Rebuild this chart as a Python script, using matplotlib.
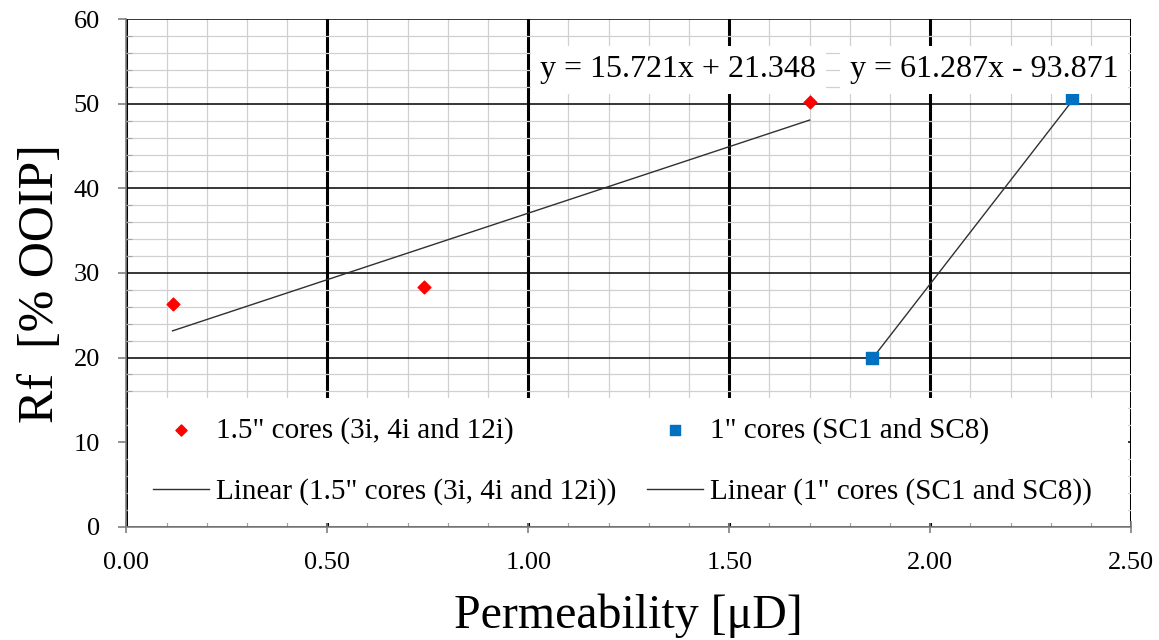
# Recovery factor vs permeability for the two core sizes, with linear trendlines

import numpy as np
import matplotlib.pyplot as plt
from matplotlib.ticker import MultipleLocator, FormatStrFormatter
from matplotlib.patches import Rectangle

plt.rcParams['font.family'] = ['Liberation Serif', 'DejaVu Serif']

# 1.5" cores (3i, 4i and 12i)
perm_15 = [0.115, 0.74, 1.70]
rf_15 = [26.3, 28.3, 50.2]

# 1" cores (SC1 and SC8)
perm_1 = [1.855, 2.353]
rf_1 = [20.0, 50.7]

# trendline coefficients (slope, intercept)
fit_15 = [15.721, 21.348]
fit_1 = [61.287, -93.871]

fig = plt.figure(figsize=(11.59, 6.40), dpi=100)
ax = fig.add_axes([0.109, 0.177, 0.867, 0.793])

ax.set_xlim(0, 2.5)
ax.set_ylim(0, 60)
ax.xaxis.set_major_locator(MultipleLocator(0.5))
ax.xaxis.set_minor_locator(MultipleLocator(0.1))
ax.xaxis.set_major_formatter(FormatStrFormatter('%.2f'))
ax.yaxis.set_major_locator(MultipleLocator(10))
ax.yaxis.set_minor_locator(MultipleLocator(2))

# grid: light minor lines, heavy vertical majors, thinner horizontal majors
ax.grid(which='minor', color='#d0d0d0', linewidth=0.9)
ax.grid(which='major', axis='x', color='black', linewidth=2.2)
ax.grid(which='major', axis='y', color='black', linewidth=1.1)
ax.set_axisbelow(True)

for side in ['left', 'bottom']:
    ax.spines[side].set_color('#808080')
    ax.spines[side].set_linewidth(1.2)
ax.spines['top'].set_visible(False)
ax.spines['right'].set_visible(False)

ax.tick_params(axis='x', which='major', direction='inout', length=9, width=1.2,
               color='#808080', labelsize=19, pad=14)
ax.tick_params(axis='y', which='major', direction='out', length=6, width=1.2,
               color='#808080', labelsize=19, pad=13)
ax.tick_params(which='minor', direction='in', length=4, width=0.8, color='#a0a0a0')

# white area behind the legend
ax.add_patch(Rectangle((0.002, 0.008), 0.995, 0.246, transform=ax.transAxes,
                       facecolor='white', edgecolor='none', zorder=1))

# trendlines over each series' x range
x15 = np.array([min(perm_15), max(perm_15)])
x1 = np.array([min(perm_1), max(perm_1)])
ax.plot(x15, fit_15[0] * x15 + fit_15[1], color='#303030', linewidth=1.0,
        label='Linear (1.5" cores (3i, 4i and 12i))', zorder=3)
ax.plot(x1, fit_1[0] * x1 + fit_1[1], color='#303030', linewidth=1.0,
        label='Linear (1" cores (SC1 and SC8))', zorder=3)

ax.scatter(perm_15, rf_15, marker='D', s=42, color='#ff0000', zorder=4,
           label='1.5" cores (3i, 4i and 12i)')
ax.scatter(perm_1, rf_1, marker='s', s=75, color='#0070c0', zorder=4,
           label='1" cores (SC1 and SC8)')

# trendline equations
box = dict(facecolor='white', edgecolor='none', pad=7)
ax.text(1.03, 54.0, f'y = {fit_15[0]:.3f}x + {fit_15[1]:.3f}', fontsize=23,
        va='center', ha='left', bbox=box, zorder=5)
ax.text(1.80, 54.0, f'y = {fit_1[0]:.3f}x - {abs(fit_1[1]):.3f}', fontsize=23,
        va='center', ha='left', bbox=box, zorder=5)

handles, labels = ax.get_legend_handles_labels()
order = [2, 0, 3, 1]
leg = ax.legend([handles[i] for i in order], [labels[i] for i in order], ncol=2,
                loc='upper left', bbox_to_anchor=(0.027, 0.217),
                fontsize=21, frameon=False, borderpad=0, borderaxespad=0,
                labelspacing=1.2, handlelength=1.92, handletextpad=0.24,
                columnspacing=1.03)
leg.legend_handles[0].set_sizes([32])
leg.legend_handles[2].set_sizes([62])
leg.set_zorder(6)

ax.set_xlabel('Permeability [μD]', fontsize=34.5, labelpad=14)
ax.set_ylabel('Rf  [% OOIP]', fontsize=36)
ax.yaxis.set_label_coords(-0.062, 0.48)

fig.savefig('out.png', dpi=100)
